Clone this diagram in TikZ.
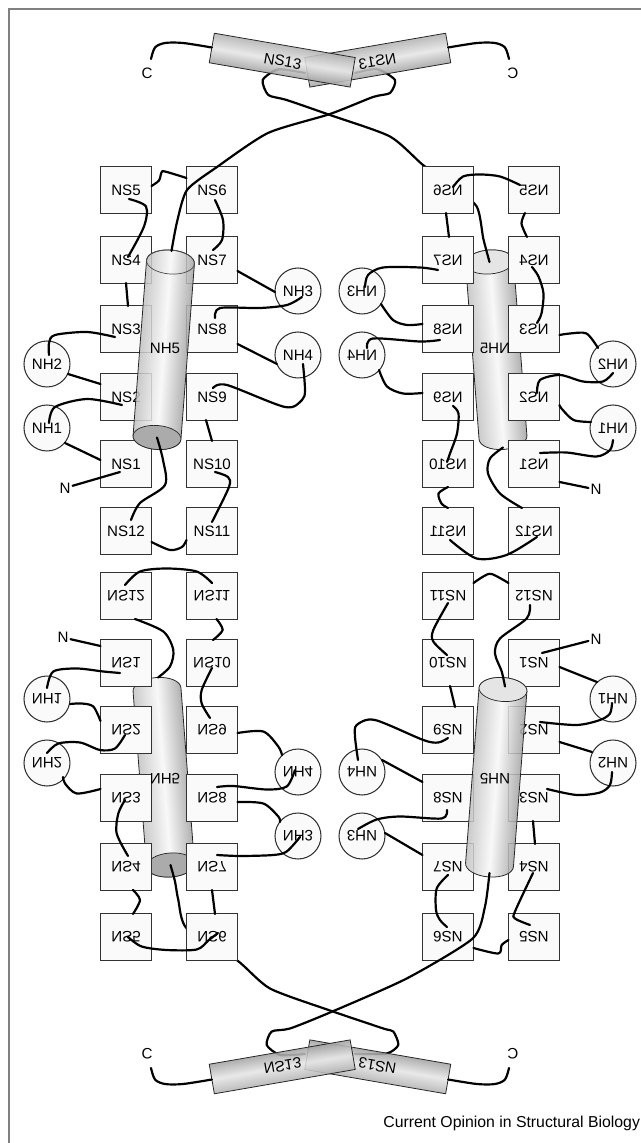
\documentclass[tikz,border=0pt]{standalone}
\usepackage{fontspec}
\setmainfont{Liberation Sans}
\usetikzlibrary{calc}

\newcommand\lbl{\fontsize{8.6}{10}\selectfont}

\tikzset{
  nsbox/.style={draw=black!80, fill=black!2, line width=0.6pt, minimum width=1.02cm,
    minimum height=0.93cm, inner sep=0pt, font=\lbl},
  nhbub/.style={circle, draw=black!80, fill=black!2, line width=0.6pt, minimum size=0.92cm,
    inner sep=0pt, font=\lbl},
  tlabel/.style={inner sep=1pt, font=\lbl},
  link/.style={line width=1.25pt, line join=round, line cap=round},
  rodbody/.style={left color=black!24, right color=black!36, middle color=black!3,
    draw=black!85, line width=0.45pt, fill opacity=0.85},
  helix/.style={top color=black!30, bottom color=black!36, middle color=black!10,
    draw=black!85, line width=0.45pt, fill opacity=0.88},
}

% one quarter: NS boxes and NH circles
\newcommand\ntdlayout[1]{%
  \foreach \k/\x/\y in {5/-204/373.5, 6/-118/373.5, 4/-204/303.5, 7/-118/303.5,
      3/-204/234.5, 8/-118/234.5, 2/-204/166.5, 9/-118/166.5,
      1/-204/99.5, 10/-118/99.5, 12/-204/32.5, 11/-118/32.5}
    \node[nsbox] (#1s\k) at (\x,\y) {NS\k};
  \foreach \k/\x/\y in {3/-32/272.5, 4/-32/208.5, 2/-283/199.5, 1/-283/135.5}
    \node[nhbub] (#1h\k) at (\x,\y) {NH\k};
}

% NH5 label and the C end hanging off the NS13 helix
\newcommand\ntdtop[1]{%
  \node[tlabel] (#1rod) at (-165,215) {NH5};
  \coordinate (#1cap) at (-118.2,516);
  \node[tlabel] (#1c) at (-183,490.5) {C};
  \draw[link] plot[smooth, tension=0.5] coordinates {(#1cap) (-147,520.5) (-165,520.5) (-175,516) ($(#1c)+(4,14)$)};
}

% NH5 cylinder: #1 placement, #2 upper cap, #3 lower cap
\newcommand\rod[3]{%
  \begin{scope}[transform canvas={#1}]
    \shade[rodbody] (-24,0) -- (-24,-176) arc[start angle=180, end angle=360, x radius=24, y radius=12]
      -- (24,0) arc[start angle=0, end angle=180, x radius=24, y radius=12] -- cycle;
    \path[#2] (0,0) ellipse[x radius=24, y radius=12];
    \path[#3] (0,-176) ellipse[x radius=24, y radius=12];
  \end{scope}}

% NS13 helix
\newcommand\helixbar[1]{%
  \begin{scope}[transform canvas={#1}]
    \shade[helix] (0,-15) rectangle (143,15);
    \node[tlabel] at (72,-1) {NS13};
  \end{scope}}

\begin{document}
\begin{tikzpicture}[x=0.02cm, y=0.02cm]
\useasboundingbox (-330,-579.5) rectangle (311,563.5);
\draw[black!50, line width=0.7pt] (-321,-600) -- (-321,554.5) -- (330,554.5);

\coordinate (tlup) at (-159.5,301.5);  \coordinate (tllow) at (-173,126);
\coordinate (trup) at (159.5,301.5);   \coordinate (trlow) at (173,126);
\coordinate (blup) at (-173,-126);     \coordinate (bllow) at (-159.5,-301.5);
\coordinate (brup) at (173,-126);      \coordinate (brlow) at (159.5,-301.5);
\coordinate (tltail) at (-25,490.5);   \coordinate (trtail) at (25,490.5);
\coordinate (bltail) at (-25,-490.5);  \coordinate (brtail) at (25,-490.5);

% cylinders lying behind the boxes
\rod{shift={(159.5,301.5)}, rotate=4.4}{draw=black!85, fill=black!10}{}
\rod{shift={(-173,-126)}, rotate=4.4}{}{draw=black!85, fill=black!33}

% chains running behind NS6
\draw[link] plot[smooth, tension=0.4] coordinates {(trup) (153.3,325) (146.7,357) (120,380) (93,398.5) (60,427) (0,448.5) (-43.3,463.5) (-61.7,468.5) (-67.3,483.5) (-51.7,494.2) (tltail)};
\draw[link] plot[smooth, tension=0.4] coordinates {(bllow) (-155,-318) (-151.7,-336.5) (-143.3,-365) (-93.3,-396.5) (-60,-425) (0,-447) (53.3,-465) (63.3,-468) (68.3,-481.5) (56.7,-490) (brtail)};

% the four quarters
\begin{scope}[transform shape] \ntdlayout{tl} \end{scope}
\begin{scope}[xscale=-1, transform shape] \ntdlayout{tr} \end{scope}
\begin{scope}[yscale=-1, transform shape] \ntdlayout{bl} \end{scope}
\begin{scope}[scale=-1, transform shape] \ntdlayout{br} \end{scope}

\node[tlabel] (tln) at (-265,75.5) {N};
\node[tlabel] (trn) at (266,74) {N};
\node[tlabel] (bln) at (-267,-74) {N};
\node[tlabel] (brn) at (266,-75.5) {N};

% cylinders in front of the boxes
\rod{shift={(-159.5,301.5)}, rotate=-4.4}{draw=black!70}{draw=black!85, fill=black!33}
\rod{shift={(173,-126)}, rotate=-4.4}{draw=black!85, fill=black!10}{}

% top left
\draw[link] plot[smooth, tension=0.5] coordinates {($(tls5)+(25.5,4)$) (-171,383) (-168.5,391) (-165,392) ($(tls6)+(-25.5,12)$)};
\draw[link] plot[smooth] coordinates {($(tls5)+(3,-9)$) (-184,357) (-186,337) ($(tls4)+(2,3)$)};
\draw[link] ($(tls4)+(0,-23)$) -- ($(tls3)+(2,23)$);
\draw[link] plot[smooth] coordinates {($(tls3)+(-11,-8)$) (-243,231.5) (-275,228.5) (-281,220.5) ($(tlh2)+(2,9)$)};
\draw[link] ($(tlh2)+(21,-10)$) -- ($(tls2)+(-25.5,13)$);
\draw[link] plot[smooth] coordinates {($(tls2)+(-4,-8)$) (-243,164.5) (-275,156.5) ($(tlh1)+(2,5)$)};
\draw[link] ($(tlh1)+(18,-15)$) -- ($(tls1)+(-25.5,4)$);
\draw[link] ($(tls1)+(-6,-8)$) -- (tln);
\draw[link] plot[smooth] coordinates {(tllow) (-167,103.5) (-165,78.5) (-190,60.5) ($(tls12)+(5,11)$)};
\draw[link] plot[smooth] coordinates {($(tls12)+(25.5,-11)$) (-160,13.5) (-148,16.5) ($(tls11)+(-25.5,-9)$)};
\draw[link] plot[smooth] coordinates {($(tls11)+(0,9)$) (-101,76.5) (-102,86.5) ($(tls10)+(3,-8)$)};
\draw[link] ($(tls10)+(0,23)$) -- ($(tls9)+(-6,-23)$);
\draw[link] plot[smooth, tension=0.5] coordinates {($(tls9)+(1,9)$) (-103,178.5) (-45,156.5) (-28,163.5) (-25,173.5) ($(tlh4)+(5,-9)$)};
\draw[link] ($(tlh4)+(-21,-9)$) -- ($(tls8)+(25.5,-15)$);
\draw[link] plot[smooth] coordinates {($(tls8)+(3,11)$) (-110,255.5) (-70,255.5) (-43,258.5) ($(tlh3)+(4,-6)$)};
\draw[link] ($(tlh3)+(-23,-1)$) -- ($(tls7)+(25.5,-11)$);
\draw[link] plot[smooth] coordinates {($(tls7)+(1,10)$) (-108,323.5) (-107,343.5) ($(tls6)+(3,-10)$)};
\draw[link] plot[smooth, tension=0.4] coordinates {($(tlup)+(1,11)$) (-153,341.5) (-143,373.5) (-113,396.5) (-62,430.5) (0,449.5) (43,466.5) (60,470.5) (65,483.5) (47,494.5) (trtail)};

% top right
\draw[link] plot[smooth] coordinates {($(trs6)+(5,3)$) (133,387) (150,389) (170,387) ($(trs5)+(-14,5)$)};
\draw[link] plot[smooth] coordinates {($(trs5)+(-9,-23)$) (191.5,340) ($(trs4)+(-7,23)$)};
\draw[link] ($(trs6)+(-2,-23)$) -- ($(trs7)+(1,23)$);
\draw[link] plot[smooth] coordinates {($(trs7)+(-10,-10)$) (90,296) (53,296) (38,288.5) ($(trh3)+(3,4)$)};
\draw[link] plot[smooth] coordinates {($(trh3)+(19,-13)$) (63,243.5) (77,238.5) ($(trs8)+(-25.5,5)$)};
\draw[link] plot[smooth] coordinates {($(trs8)+(-8,-11)$) (90,222) (43,225) ($(trh4)+(5,7)$)};
\draw[link] plot[smooth] coordinates {($(trh4)+(17,-15)$) (57,177) (73,170) ($(trs9)+(-25.5,4)$)};
\draw[link] plot[smooth] coordinates {($(trs9)+(5,-9)$) (128.5,150) (127,130) (120,110) ($(trs10)+(-1,2)$)};
\draw[link] plot[smooth] coordinates {($(trs10)+(0,-23)$) (108.5,70) (111.5,60) ($(trs11)+(0,23)$)};
\draw[link] plot[smooth] coordinates {($(trs11)+(2,-9)$) (146.5,5) (176.5,8.5) ($(trs12)+(3,-6)$)};
\draw[link] plot[smooth] coordinates {($(trs12)+(-12,23)$) (170,70) (158,90) (160,105) ($(trlow)+(0,-10)$)};
\draw[link] plot[smooth] coordinates {($(trs1)+(6,11)$) (236.5,111) (266.5,107) (280,113.5) ($(trh1)+(0,-12)$)};
\draw[link] plot[smooth] coordinates {($(trh1)+(-22,6)$) (243.5,143.5) (231.5,155) ($(trs2)+(25.5,-8)$)};
\draw[link] plot[smooth] coordinates {($(trs2)+(3,4)$) (210,183.5) (230,188.5) (253,182) (273,182) ($(trh2)+(0,-9)$)};
\draw[link] plot[smooth] coordinates {($(trh2)+(-15,16)$) (256.5,230) (240,230) ($(trs3)+(25.5,-6)$)};
\draw[link] plot[smooth] coordinates {($(trs3)+(3,6)$) (211.5,250) (213.5,270) (208.5,287) ($(trs4)+(-2,-7)$)};
\draw[link] ($(trs1)+(25.5,-18)$) -- (trn);

% bottom left
\draw[link] plot[smooth] coordinates {($(bls12)+(-1,11)$) (-190,-8) (-163.3,-5) (-133.3,-8) ($(bls11)+(0,13)$)};
\draw[link] plot[smooth] coordinates {($(bls12)+(9,-23)$) (-166.7,-68) (-156.7,-86.5) (-160,-103) ($(blup)+(1,12)$)};
\draw[link] plot[smooth] coordinates {($(bls11)+(4.5,-23)$) (-107.3,-66.5) ($(bls10)+(1,23)$)};
\draw[link] plot[smooth] coordinates {($(bls10)+(0,-5)$) (-128.3,-126.5) (-128.3,-140) ($(bls9)+(-2,12)$)};
\draw[link] plot[smooth] coordinates {($(bls9)+(25.5,-3)$) (-66.7,-168) (-51.7,-183) ($(blh4)+(-16,17)$)};
\draw[link] plot[smooth] coordinates {($(blh4)+(-3,2)$) (-43.3,-223) (-63.3,-226) (-96.7,-222.5) ($(bls8)+(5,11)$)};
\draw[link] plot[smooth] coordinates {($(bls8)+(25.5,-4)$) (-66.7,-240) (-51.7,-253) ($(blh3)+(-18,14)$)};
\draw[link] plot[smooth] coordinates {($(blh3)+(2,-1)$) (-43.3,-288) (-56.7,-291.5) (-90,-292.5) ($(bls7)+(5,12)$)};
\draw[link] ($(bls7)+(0,-23)$) -- ($(bls6)+(3,23)$);
\draw[link] plot[smooth] coordinates {($(bls5)+(2,0)$) (-188.3,-383) (-163.3,-386.5) (-133.3,-386) (-121.7,-377) ($(bls6)+(6,4)$)};
\draw[link] plot[smooth] coordinates {($(bls5)+(7,23)$) (-190,-336.5) ($(bls4)+(7,-23)$)};
\draw[link] plot[smooth] coordinates {($(bls4)+(2,11)$) (-213.3,-270) (-211.7,-250) ($(bls3)+(-1,-2)$)};
\draw[link] plot[smooth] coordinates {($(bls3)+(-25.5,9)$) (-253.3,-230) (-265,-220) ($(blh2)+(16,-14)$)};
\draw[link] plot[smooth] coordinates {($(blh2)+(0,10)$) (-271.7,-180) (-250,-179) (-230,-186.5) (-215,-185) ($(bls2)+(-1,-5)$)};
\draw[link] plot[smooth] coordinates {($(bls2)+(-25.5,9)$) (-236.7,-143) (-248.3,-140) ($(blh1)+(23,-5)$)};
\draw[link] plot[smooth] coordinates {($(blh1)+(0,11)$) (-276.7,-108) (-253.3,-105) (-226.7,-108) ($(bls1)+(-6,-10)$)};
\draw[link] ($(bls1)+(-25.5,17)$) -- (bln);

% bottom right
\draw[link] plot[smooth] coordinates {($(brs11)+(25.5,13)$) (153.3,-13) (161.7,-10.5) ($(brs12)+(-25.5,13)$)};
\draw[link] plot[smooth] coordinates {($(brs11)+(0,-7)$) (103.3,-66.5) (103.3,-78) ($(brs10)+(-1,8)$)};
\draw[link] ($(brs10)+(2,-23)$) -- ($(brs9)+(7,23)$);
\draw[link] plot[smooth, tension=0.5] coordinates {($(brs9)+(0,-8)$) (108.3,-179) (93.3,-176.5) (45,-156.5) (26.7,-161.5) (25,-173) ($(brh4)+(-4,12)$)};
\draw[link] ($(brh4)+(20,12)$) -- ($(brs8)+(-25.5,16)$);
\draw[link] plot[smooth] coordinates {($(brs8)+(-1,-12)$) (111.7,-255) (70,-253) (46.7,-256) ($(brh3)+(-4,7)$)};
\draw[link] ($(brh3)+(23,3)$) -- ($(brs7)+(-25.5,12)$);
\draw[link] plot[smooth] coordinates {($(brs7)+(0,-8)$) (106.7,-325) (106,-346.5) (110,-356.5) ($(brs6)+(-1,10)$)};
\draw[link] plot[smooth] coordinates {($(brs4)+(-1,-6)$) (185,-348) (185,-355) ($(brs5)+(-4,12)$)};
\draw[link] ($(brs3)+(-1,-23)$) -- ($(brs4)+(1,23)$);
\draw[link] plot[smooth] coordinates {($(brs3)+(13,9)$) (246.7,-231.5) (270,-229) (280,-221.5) ($(brh2)+(-1,-9)$)};
\draw[link] ($(brh2)+(-21,11)$) -- ($(brs2)+(25.5,-12)$);
\draw[link] plot[smooth] coordinates {($(brs2)+(6,8)$) (246.7,-161.5) (270,-156.5) (280,-150) ($(brh1)+(-1,-4)$)};
\draw[link] ($(brh1)+(-16,17)$) -- ($(brs1)+(25.5,-4)$);
\draw[link] ($(brs1)+(8,10)$) -- (brn);
\draw[link] plot[smooth] coordinates {($(brs12)+(-4,-9)$) (196.7,-55) (170,-75) (165,-90) (171.7,-108) ($(brup)+(2,3)$)};
\draw[link] plot[smooth, tension=0.5] coordinates {($(brs6)+(25.5,-11)$) (168.3,-390) (171.7,-381.5) ($(brs5)+(-25.5,-3)$)};
\draw[link] plot[smooth, tension=0.4] coordinates {($(brlow)+(0,-8)$) (155,-343) (142.7,-375) (76.7,-415) (0,-449) (-40,-465) (-58.3,-468) (-63.3,-481.5) (-50,-491.5) (bltail)};

% NS13 helices
\helixbar{shift={(118.2,515.5)}, rotate=9.8, xscale=-1}
\helixbar{shift={(-118.2,515.5)}, rotate=-9.8}
\helixbar{shift={(118.2,-515.5)}, rotate=-9.8, scale=-1}
\helixbar{shift={(-118.2,-515.5)}, rotate=9.8, yscale=-1}

\begin{scope}[transform shape] \ntdtop{tl} \end{scope}
\begin{scope}[xscale=-1, transform shape] \ntdtop{tr} \end{scope}
\begin{scope}[yscale=-1, transform shape] \ntdtop{bl} \end{scope}
\begin{scope}[scale=-1, transform shape] \ntdtop{br} \end{scope}

\node[anchor=west, inner sep=0pt, font=\fontsize{9}{11}\selectfont] (credit) at (53,-559.5) {Current Opinion in Structural Biology};
\end{tikzpicture}
\end{document}
